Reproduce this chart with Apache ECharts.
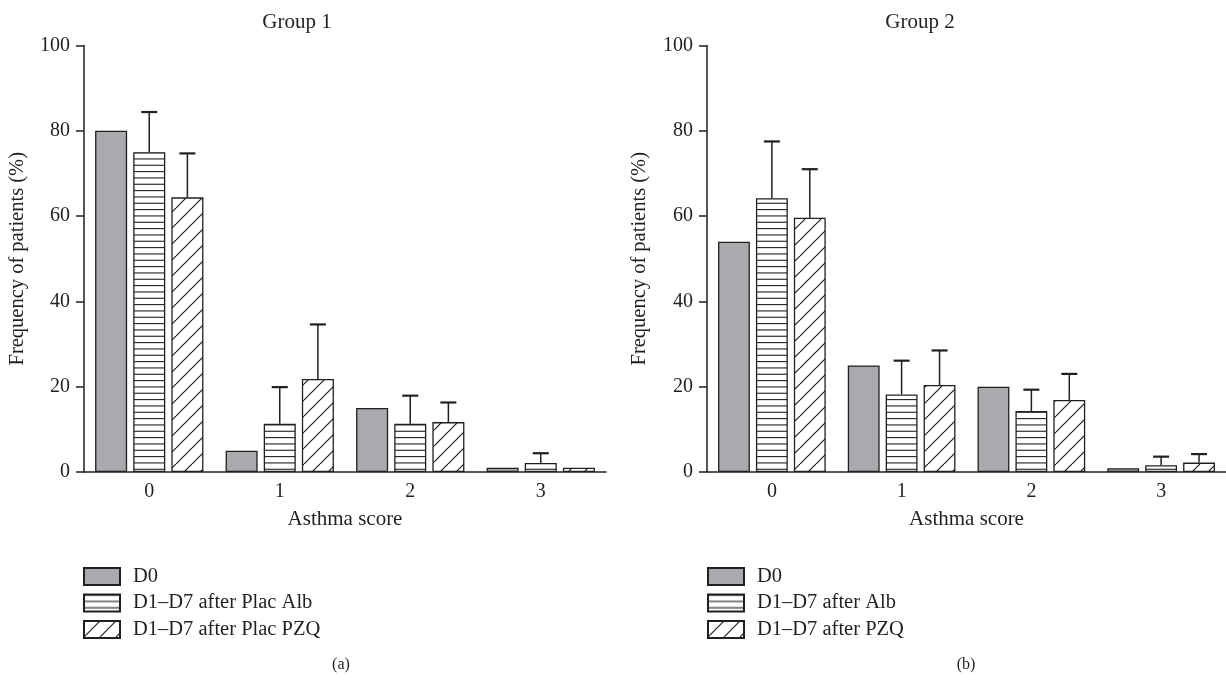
<!DOCTYPE html>
<html><head><meta charset="utf-8">
<script src="https://cdn.jsdelivr.net/npm/echarts@6/dist/echarts.min.js"></script>
<style>html,body{margin:0;padding:0;background:#fff}#c{width:1226px;height:682px}</style>
</head><body><div id="c"></div>
<script>
// ---- data ----
const categories = ['0', '1', '2', '3'];
const g1Names = ['D0', 'D1–D7 after Plac Alb', 'D1–D7 after Plac PZQ'];
const g2Names = ['D0', 'D1–D7 after Alb', 'D1–D7 after PZQ'];
const g1D0 = [80, 5, 15, 1];
const g1Alb = [75, 11.3, 11.3, 2.1];
const g1AlbErr = [84.4, 19.9, 17.9, 4.4];
const g1PZQ = [64.4, 21.8, 11.7, 1.0];
const g1PZQErr = [74.7, 34.6, 16.3, null];
const g2D0 = [54, 25, 20, 0.9];
const g2Alb = [64.2, 18.2, 14.3, 1.6];
const g2AlbErr = [77.5, 26.1, 19.3, 3.6];
const g2PZQ = [59.6, 20.4, 16.9, 2.2];
const g2PZQErr = [71.0, 28.5, 23.0, 4.2];
const yMin = 0, yMax = 100, yInterval = 20;

// ---- styles ----
const FONT = 'Liberation Serif';
const INK = '#231f20';
const GRAY = '#a9aaad';
const CAT_GAP = 0.17, BAR_GAP = 0.19;

function hPattern() {
  const c = document.createElement('canvas'); c.width = 4; c.height = 19;
  const x = c.getContext('2d'); x.fillStyle = '#fff'; x.fillRect(0, 0, 4, 19);
  x.strokeStyle = INK; x.lineWidth = 1.1;
  for (let k = 0; k < 3; k++) { const y = 0.6 + k * 19 / 3; x.beginPath(); x.moveTo(0, y); x.lineTo(4, y); x.stroke(); }
  return { image: c, repeat: 'repeat' };
}
function dPattern() {
  const c = document.createElement('canvas'); c.width = 16; c.height = 16;
  const x = c.getContext('2d'); x.fillStyle = '#fff'; x.fillRect(0, 0, 16, 16);
  x.strokeStyle = INK; x.lineWidth = 1.2;
  for (const o of [-16, 0, 16]) { x.beginPath(); x.moveTo(o, 16); x.lineTo(o + 16, 0); x.stroke(); }
  return { image: c, repeat: 'repeat' };
}
const fills = [GRAY, hPattern(), dPattern()];

function errRender(k) {
  return function (params, api) {
    const idx = api.value(0);
    const base = api.coord([idx, api.value(1)]);
    const top = api.coord([idx, api.value(2)]);
    const band = api.size([1, 0])[0];
    const bw = band * (1 - CAT_GAP) / (3 + 2 * BAR_GAP);
    const x = base[0] + (k - 1) * bw * (1 + BAR_GAP);
    return { type: 'group', children: [
      { type: 'line', shape: { x1: x, y1: base[1], x2: x, y2: top[1] }, style: { stroke: INK, lineWidth: 1.5 } },
      { type: 'line', shape: { x1: x - 8, y1: top[1], x2: x + 8, y2: top[1] }, style: { stroke: INK, lineWidth: 2.2 } }
    ] };
  };
}
function errData(vals, errs) {
  const out = [];
  for (let i = 0; i < vals.length; i++) if (errs[i] != null) out.push([i, vals[i], errs[i]]);
  return out;
}

function barSeries(name, data, k, gi) {
  return { type: 'bar', name: name, data: data, xAxisIndex: gi, yAxisIndex: gi,
    barCategoryGap: (CAT_GAP * 100) + '%', barGap: (BAR_GAP * 100) + '%',
    itemStyle: { color: fills[k], borderColor: INK, borderWidth: 1.3 }, z: 2 };
}
function errSeries(vals, errs, k, gi) {
  return { type: 'custom', renderItem: errRender(k), data: errData(vals, errs),
    xAxisIndex: gi, yAxisIndex: gi, encode: { x: 0, y: [1, 2] }, z: 3, silent: true };
}

const grids = [{ left: 84, top: 45.5, width: 522, height: 426.5 },
               { left: 707, top: 45.5, width: 519, height: 426.5 }];
function xAx(gi) {
  return { type: 'category', gridIndex: gi, data: categories,
    axisLine: { lineStyle: { color: INK, width: 1.5 } }, axisTick: { show: false },
    axisLabel: { color: INK, fontFamily: FONT, fontSize: 20, margin: 10 },
    name: 'Asthma score', nameLocation: 'middle', nameGap: 37,
    nameTextStyle: { color: INK, fontFamily: FONT, fontSize: 21 } };
}
function yAx(gi, gap) {
  return { type: 'value', gridIndex: gi, min: yMin, max: yMax, interval: yInterval,
    axisLine: { show: true, lineStyle: { color: INK, width: 1.5 } },
    axisTick: { show: true, length: 8, lineStyle: { color: INK, width: 1.5 } },
    splitLine: { show: false },
    axisLabel: { color: INK, fontFamily: FONT, fontSize: 20, margin: 14 },
    name: 'Frequency of patients (%)', nameLocation: 'middle', nameGap: gap,
    nameTextStyle: { color: INK, fontFamily: FONT, fontSize: 20.5 } };
}
function legendFor(names, left) {
  return { data: names, left: left, top: 566, orient: 'vertical', icon: 'rect', padding: 0,
    itemWidth: 36, itemHeight: 17, itemGap: 5.5, selectedMode: false,
    textStyle: { color: INK, fontFamily: FONT, fontSize: 20.5, lineHeight: 20, padding: [0, 0, 0, 8] } };
}

const chart = echarts.init(document.getElementById('c'), null, { renderer: 'canvas' });
chart.setOption({
  animation: false,
  backgroundColor: '#fff',
  grid: grids,
  xAxis: [xAx(0), xAx(1)],
  yAxis: [yAx(0, 56), yAx(1, 57)],
  legend: [legendFor(g1Names, 83), legendFor(g2Names, 707)],
  graphic: [
    { type: 'text', x: 297, y: 22, style: { text: 'Group 1', fill: INK, font: '21px "' + FONT + '"', align: 'center', verticalAlign: 'middle' } },
    { type: 'text', x: 920, y: 22, style: { text: 'Group 2', fill: INK, font: '21px "' + FONT + '"', align: 'center', verticalAlign: 'middle' } },
    { type: 'text', x: 341, y: 665, style: { text: '(a)', fill: INK, font: '16px "' + FONT + '"', align: 'center', verticalAlign: 'middle' } },
    { type: 'text', x: 966, y: 665, style: { text: '(b)', fill: INK, font: '16px "' + FONT + '"', align: 'center', verticalAlign: 'middle' } }
  ],
  series: [
    barSeries(g1Names[0], g1D0, 0, 0),
    barSeries(g1Names[1], g1Alb, 1, 0),
    barSeries(g1Names[2], g1PZQ, 2, 0),
    errSeries(g1Alb, g1AlbErr, 1, 0),
    errSeries(g1PZQ, g1PZQErr, 2, 0),
    barSeries(g2Names[0], g2D0, 0, 1),
    barSeries(g2Names[1], g2Alb, 1, 1),
    barSeries(g2Names[2], g2PZQ, 2, 1),
    errSeries(g2Alb, g2AlbErr, 1, 1),
    errSeries(g2PZQ, g2PZQErr, 2, 1)
  ]
});
</script></body></html>
